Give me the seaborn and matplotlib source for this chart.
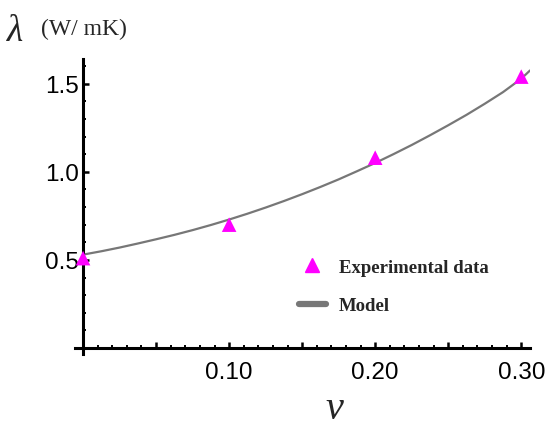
import numpy as np
import pandas as pd
import matplotlib
matplotlib.use("Agg")
import matplotlib.pyplot as plt
from matplotlib.lines import Line2D
from matplotlib.ticker import MultipleLocator, FixedLocator, FixedFormatter
import seaborn as sns

# experimental points (volume fraction, conductivity)
exp_v = [0.0, 0.10, 0.20, 0.30]
exp_lam = [0.51, 0.70, 1.08, 1.54]

# model curve
model_v = [0.0, 0.0125, 0.025, 0.0375, 0.05, 0.0625, 0.075, 0.0875, 0.10, 0.1125, 0.125,
           0.1375, 0.15, 0.1625, 0.175, 0.1875, 0.20, 0.2125, 0.225, 0.2375, 0.25,
           0.2625, 0.275, 0.2875, 0.30, 0.306]
model_lam = [0.530, 0.549, 0.570, 0.593, 0.617, 0.642, 0.669, 0.698, 0.729, 0.762, 0.797,
             0.834, 0.873, 0.914, 0.957, 1.003, 1.050, 1.100, 1.152, 1.207, 1.264,
             1.323, 1.386, 1.452, 1.528, 1.575]

xtick_pos = [0.05, 0.10, 0.15, 0.20, 0.25, 0.30]
xtick_lab = ["", "0.10", "", "0.20", "", "0.30"]
ytick_pos = [0.5, 1.0, 1.5]
ytick_lab = ["0.5", "1.0", "1.5"]

df_exp = pd.DataFrame({"v": exp_v, "lam": exp_lam})
df_mod = pd.DataFrame({"v": model_v, "lam": model_lam})

sns.set_style("white")
plt.rcParams["font.family"] = ["Liberation Sans", "DejaVu Sans"]

fig = plt.figure(figsize=(5.48, 4.27), dpi=100)
ax = fig.add_axes([0.1369, 0.1686, 0.8303, 0.6909])

sns.lineplot(data=df_mod, x="v", y="lam", color="#777777", linewidth=1.6, ax=ax)
sns.scatterplot(data=df_exp, x="v", y="lam", marker="^", color="#FF00FF", s=110,
                edgecolor="none", ax=ax, zorder=3)

ax.set_xlim(-0.0055, 0.306)
ax.set_ylim(-0.034, 1.64)

for side in ["top", "right"]:
    ax.spines[side].set_visible(False)
ax.spines["left"].set_position(("data", 0))
ax.spines["bottom"].set_position(("data", 0))
for side in ["left", "bottom"]:
    ax.spines[side].set_linewidth(2.2)
    ax.spines[side].set_color("black")

ax.xaxis.set_major_locator(FixedLocator(xtick_pos))
ax.xaxis.set_major_formatter(FixedFormatter(xtick_lab))
ax.xaxis.set_minor_locator(MultipleLocator(0.01))
ax.yaxis.set_major_locator(FixedLocator(ytick_pos))
ax.yaxis.set_major_formatter(FixedFormatter(ytick_lab))
ax.yaxis.set_minor_locator(MultipleLocator(0.1))

ax.tick_params(which="both", bottom=True, left=True, top=False, right=False)
ax.tick_params(which="major", direction="in", length=4, width=1.8, color="black",
               labelsize=17.5, labelcolor="black")
ax.tick_params(which="minor", direction="in", length=2.5, width=1.4, color="black")
ax.tick_params(axis="x", which="major", pad=9)
ax.tick_params(axis="y", which="major", pad=3)

ax.set_xlabel("")
ax.set_ylabel("")

# axis titles as free text
fig.text(0.012, 0.905, "λ", fontsize=27, family="Liberation Serif", style="italic")
fig.text(0.075, 0.918, "(W/ mK)", fontsize=17, family="Liberation Serif")
fig.text(0.593, 0.018, "v", fontsize=29, family="Liberation Serif", style="italic")

handles = [
    Line2D([], [], marker="^", color="#FF00FF", linestyle="none", markersize=10),
    Line2D([], [], color="#777777", linewidth=4.5),
]
leg = ax.legend(handles, ["Experimental data", "Model"], loc="upper left",
                bbox_to_anchor=(293 / 548, 1 - 254 / 427), bbox_transform=fig.transFigure,
                frameon=False, handlelength=1.45, handletextpad=0.7, labelspacing=1.15,
                borderaxespad=0, borderpad=0.3,
                prop={"family": "Liberation Serif", "weight": "bold", "size": 13.5})

fig.savefig("out.png", dpi=100)
